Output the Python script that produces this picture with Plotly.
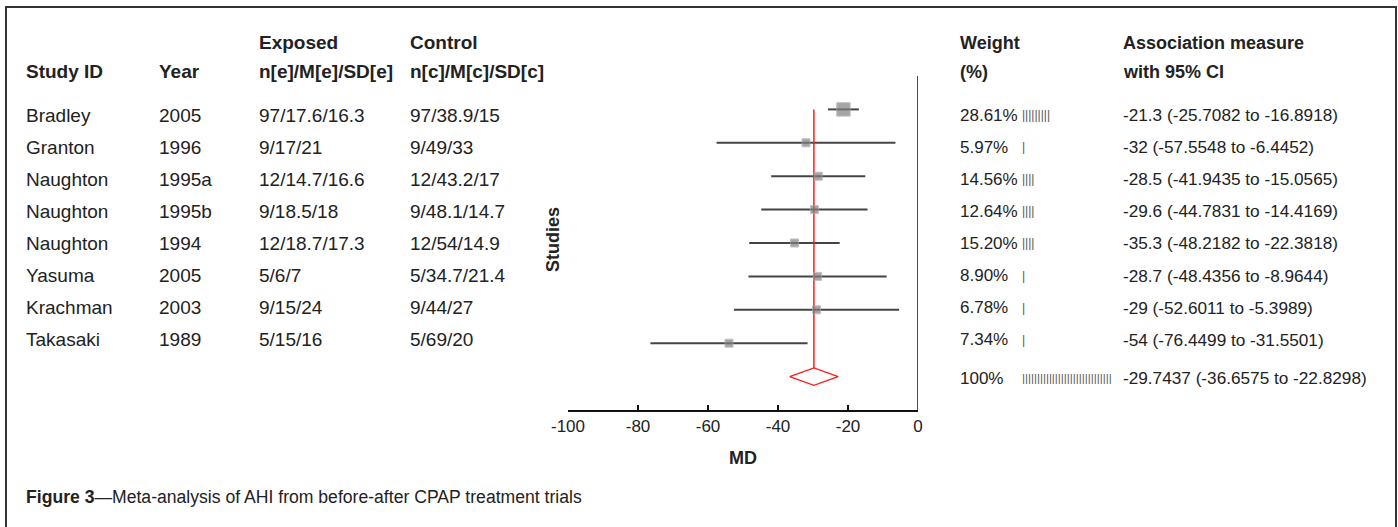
import plotly.graph_objects as go

# ---------------- data ----------------
study_ids = ["Bradley", "Granton", "Naughton", "Naughton", "Naughton", "Yasuma", "Krachman", "Takasaki"]
years = ["2005", "1996", "1995a", "1995b", "1994", "2005", "2003", "1989"]
exposed = ["97/17.6/16.3", "9/17/21", "12/14.7/16.6", "9/18.5/18", "12/18.7/17.3", "5/6/7", "9/15/24", "5/15/16"]
control = ["97/38.9/15", "9/49/33", "12/43.2/17", "9/48.1/14.7", "12/54/14.9", "5/34.7/21.4", "9/44/27", "5/69/20"]
weights = [28.61, 5.97, 14.56, 12.64, 15.20, 8.90, 6.78, 7.34]
weight_labels = ["28.61%", "5.97%", "14.56%", "12.64%", "15.20%", "8.90%", "6.78%", "7.34%"]
weight_bars = [9, 1, 4, 4, 4, 1, 1, 1]
md = [-21.3, -32, -28.5, -29.6, -35.3, -28.7, -29, -54]
ci_low = [-25.7082, -57.5548, -41.9435, -44.7831, -48.2182, -48.4356, -52.6011, -76.4499]
ci_high = [-16.8918, -6.4452, -15.0565, -14.4169, -22.3818, -8.9644, -5.3989, -31.5501]
pooled_md = -29.7437
pooled_low = -36.6575
pooled_high = -22.8298
pooled_weight_label = "100%"
pooled_bars = 30
x_ticks = [-100, -80, -60, -40, -20, 0]

W, H = 1398, 527
FONT = "Liberation Sans, Arial, sans-serif"
TXT = "#222222"

def px(x):
    return x / W

def py(y):
    return 1 - y / H

fig = go.Figure()

rows = list(range(1, len(md) + 1))
pooled_row = len(md) + 1

# CI lines
for r, lo, hi in zip(rows, ci_low, ci_high):
    fig.add_trace(go.Scatter(x=[lo, hi], y=[r, r], mode="lines",
                             line=dict(color="#444444", width=2),
                             hoverinfo="skip", showlegend=False))

# pooled vertical red line
dh = 0.26
fig.add_trace(go.Scatter(x=[pooled_md, pooled_md], y=[1, pooled_row - dh], mode="lines",
                         line=dict(color="#ff1a1a", width=1.5), hoverinfo="skip", showlegend=False))

# squares
sizes = [max(8, w * 0.47) for w in weights]
fig.add_trace(go.Scatter(x=md, y=rows, mode="markers",
                         marker=dict(symbol="square", size=sizes, color="#7f7f7f",
                                     line=dict(color="#a8a8a8", width=1)),
                         hoverinfo="skip", showlegend=False))

# diamond
fig.add_trace(go.Scatter(x=[pooled_low, pooled_md, pooled_high, pooled_md, pooled_low],
                         y=[pooled_row, pooled_row - dh, pooled_row, pooled_row + dh, pooled_row],
                         mode="lines", line=dict(color="#ff1a1a", width=1.3),
                         hoverinfo="skip", showlegend=False))

# vertical line at 0
fig.add_trace(go.Scatter(x=[0, 0], y=[0, 10], mode="lines",
                         line=dict(color="#111111", width=1.5), hoverinfo="skip", showlegend=False))

fig.update_xaxes(range=[-100, 0], domain=[px(568), px(918)], showline=True, linecolor="#111111",
                 linewidth=1.5, ticks="inside", ticklen=5, tickwidth=1.5, tickcolor="#111111",
                 tickvals=x_ticks, ticktext=[str(t) for t in x_ticks], showgrid=False, zeroline=False,
                 tickfont=dict(family=FONT, size=17, color=TXT), fixedrange=True, automargin=False)
fig.update_yaxes(range=[10, 0], domain=[py(410), py(76)], showline=False, showticklabels=False,
                 ticks="", showgrid=False, zeroline=False, fixedrange=True, automargin=False)

ann = []

def text(x, y, s, size=19, bold=False, anchor="left", angle=0, color=TXT):
    ann.append(dict(x=px(x), y=py(y), xref="paper", yref="paper", text=("<b>%s</b>" % s) if bold else s,
                    showarrow=False, xanchor=anchor, yanchor="middle", textangle=angle,
                    font=dict(family=FONT, size=size, color=color)))

# headers
text(24, 72, "Study ID", bold=True)
text(157, 72, "Year", bold=True)
text(257, 43, "Exposed", bold=True)
text(257, 72, "n[e]/M[e]/SD[e]", bold=True)
text(408, 43, "Control", bold=True)
text(408, 72, "n[c]/M[c]/SD[c]", bold=True)
text(958, 43, "Weight", bold=True, size=18)
text(958, 72, "(%)", bold=True, size=18)
text(1121, 43, "Association measure", bold=True, size=18)
text(1121, 72, "with 95% CI", bold=True, size=18)

text_rows = [115 + i * 32.1 for i in range(len(md))]
for i, ty in enumerate(text_rows):
    text(24, ty, study_ids[i])
    text(157, ty, years[i])
    text(257, ty, exposed[i])
    text(408, ty, control[i])
    text(958, ty, weight_labels[i], size=17)
    text(1020, ty, "|" * weight_bars[i], size=12, color="#555555")
    text(1121, ty, "%s (%s to %s)" % (f"{md[i]:g}", f"{ci_low[i]:g}", f"{ci_high[i]:g}"), size=17.2)

ty = 378
text(958, ty, pooled_weight_label, size=17)
text(1020, ty, "|" * pooled_bars, size=11.5, color="#555555")
text(1121, ty, "%s (%s to %s)" % (f"{pooled_md:g}", f"{pooled_low:g}", f"{pooled_high:g}"), size=17.2)

# axis titles
text(743, 458, "MD", bold=True, anchor="center", size=18)
text(553, 240, "Studies", bold=True, anchor="center", angle=-90, size=18)

# caption
ann.append(dict(x=px(24), y=py(497), xref="paper", yref="paper",
                text="<b>Figure 3</b>—Meta-analysis of AHI from before-after CPAP treatment trials",
                showarrow=False, xanchor="left", yanchor="middle",
                font=dict(family=FONT, size=17.6, color=TXT)))

fig.update_layout(
    width=W, height=H, autosize=False, margin=dict(l=0, r=0, t=0, b=0, pad=0),
    paper_bgcolor="white", plot_bgcolor="white", annotations=ann, showlegend=False,
    shapes=[dict(type="rect", xref="paper", yref="paper", x0=px(6), x1=px(1396), y0=py(540), y1=py(7),
                 line=dict(color="#333333", width=2))],
)

fig.write_html("out.html", config={"displayModeBar": False, "responsive": False},
               post_script="document.body.style.margin='0';document.body.style.overflow='hidden';"
                           "document.documentElement.style.overflow='hidden';")
